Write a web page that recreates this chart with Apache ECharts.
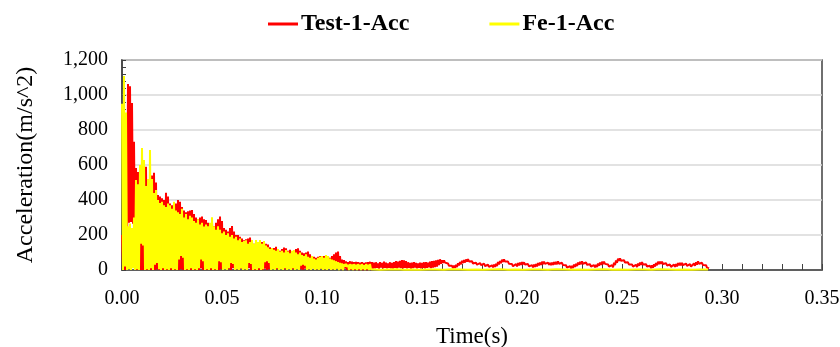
<!DOCTYPE html>
<html><head><meta charset="utf-8">
<script src="https://cdn.jsdelivr.net/npm/echarts@6/dist/echarts.min.js"></script>
<style>html,body{margin:0;padding:0;background:#fff}#c{width:840px;height:347px}</style>
</head><body><div id="c"></div>
<script>
// sample grid: peaks at t = i*STEP, troughs at t = (i+0.5)*STEP
const STEP = 0.001;
const seriesNames = ['Test-1-Acc', 'Fe-1-Acc'];

// Test-1-Acc (red) peak values, t = 0.000 ... 0.293
const redHigh = [
  200,500,800,1063,1050,954,733,583,560,520,
  540,580,590,520,480,540,556,500,428,420,
  410,400,442,420,380,370,360,380,400,390,
  360,340,330,335,340,343,320,300,290,300,
  305,290,286,270,260,280,250,270,290,305,
  280,240,230,220,240,251,220,200,200,190,
  180,170,175,180,185,160,150,160,150,165,
  160,140,150,145,130,120,125,133,120,110,
  120,128,124,110,115,100,110,120,124,110,
  100,95,100,105,90,80,75,70,75,80,
  75,80,86,80,70,80,90,100,105,80,
  60,57,50,45,50,48,45,47,45,42,
  45,40,44,45,47,45,
  42,44,38,45,40,47,42,38,44,40,
  45,50,48,52,57,55,50,44,40,42,
  45,40,38,42,40,44,45,42,47,50,
  52,55,58,61,55,
  55,46,37,28,24,25,30,39,45,53,
  56,60,62,57,50,47,42,41,40,39,
  36,34,30,29,27,31,36,45,52,59,
  61,57,48,41,34,32,34,39,42,45,
  44,41,34,31,28,31,34,39,42,47,
  48,45,42,41,42,45,46,49,46,41,
  32,27,22,22,24,31,36,43,46,49,
  46,43,38,33,28,28,30,37,42,47,
  48,43,32,25,28,41,54,65,66,63,
  56,51,44,39,32,29,30,37,42,45,
  40,33,26,24,26,33,40,47,48,47,
  42,39,34,31,28,31,34,39,40,41,
  38,37,34,33,31,37,44,49,46,41,
  32,27,22
];
// Test-1-Acc (red) trough values, t = 0.0005 ... 0.2935
const redLow = [
  0,0,10,270,275,265,100,0,5,0,
  0,8,0,5,0,10,0,5,0,8,
  0,5,0,10,0,5,0,8,0,5,
  0,8,0,5,0,10,0,5,0,8,
  0,5,0,10,0,5,0,8,0,5,
  0,8,0,5,0,10,0,5,0,8,
  0,5,0,10,0,5,0,8,0,5,
  0,8,0,5,0,10,0,5,0,8,
  0,5,0,10,0,5,0,8,0,5,
  0,8,0,5,0,10,0,5,0,8,
  0,5,0,10,0,5,0,8,0,5,
  0,8,0,5,0,10,0,5,0,8,
  0,5,0,10,0,8,
  10,12,8,14,10,12,9,13,10,8,
  12,10,14,11,9,12,10,13,8,11,
  14,10,12,9,13,10,12,15,11,14,
  16,20,28,36,40,
  42,33,24,16,11,12,17,26,33,40,
  43,48,49,44,37,34,30,27,28,26,
  23,21,18,15,15,18,23,32,39,46,
  48,44,35,28,21,19,21,26,29,32,
  31,28,21,18,15,18,21,26,29,34,
  35,32,29,28,29,32,33,36,33,28,
  19,14,9,9,11,18,23,30,33,36,
  33,30,25,20,15,15,17,24,29,34,
  35,30,19,12,15,28,41,52,53,50,
  43,38,31,26,19,16,17,24,29,32,
  27,20,13,11,13,20,27,34,35,34,
  29,26,21,18,15,18,21,26,27,28,
  25,24,21,20,18,24,31,36,33,28,
  19,14,9
];
// Fe-1-Acc (yellow) peak values, t = 0.000 ... 0.124
const yellowHigh = [
  950,1109,900,250,265,240,300,514,490,600,
  697,628,480,520,686,520,440,457,400,383,
  390,370,360,380,370,350,390,340,330,320,
  350,300,320,290,310,300,280,270,290,260,
  270,248,260,250,270,301,250,230,250,230,
  210,220,200,210,190,200,180,190,170,180,
  160,165,170,150,160,171,150,171,160,171,
  150,165,140,130,120,125,115,110,120,105,
  110,100,114,105,95,110,114,100,90,100,
  85,80,90,75,70,80,65,60,70,75,
  80,70,86,80,65,60,55,50,45,40,
  38,34,35,30,34,32,34,30,34,30,
  34,28,34,30,34
];
// Fe-1-Acc (yellow) trough values, t = 0.0005 ... 0.1245
const yellowLow = [
  0,20,0,5,0,10,0,5,0,150,
  140,0,5,0,10,0,30,40,5,0,
  10,0,5,0,10,0,5,0,60,80,
  70,0,5,0,10,0,5,0,10,60,
  50,0,5,0,10,0,5,0,50,45,
  0,5,0,10,40,35,0,5,0,10,
  0,5,0,40,35,0,5,0,10,0,
  5,45,50,40,0,5,0,10,0,5,
  0,10,0,5,0,10,0,5,0,25,
  30,25,0,5,0,8,0,5,0,8,
  0,5,0,8,0,5,0,8,0,5,
  0,20,18,0,5,0,6,0,5,0,
  6,0,5,0,4
];
// Fe-1-Acc (yellow) tail, t = 0.125 ... 0.293 every 0.004 s
const YTAIL_START = 0.125, YTAIL_STEP = 0.004;
const yellowTail = [
  3,2,3,4,2,3,2,3,3,2,
  4,3,2,3,2,3,4,2,3,2,
  3,3,2,4,3,2,3,2,3,4,
  2,3,2,3,3,2,4,3,2,3,
  2,3,3
];

function interleave(high, low, step) {
  const out = [];
  const n = Math.min(high.length, low.length);
  for (let i = 0; i < n; i++) {
    out.push([+(i * step).toFixed(5), high[i]]);
    out.push([+((i + 0.5) * step).toFixed(5), low[i]]);
  }
  return out;
}
const redData = interleave(redHigh, redLow, STEP);
const yellowData = interleave(yellowHigh, yellowLow, STEP);
yellowTail.forEach((v, i) => yellowData.push([+(YTAIL_START + i * YTAIL_STEP).toFixed(5), v]));

const FONT = "'Liberation Serif','Times New Roman',serif";
const AXIS_COLOR = '#404040';

const chart = echarts.init(document.getElementById('c'), null, {renderer: 'canvas'});
chart.setOption({
  animation: false,
  backgroundColor: '#fff',
  legend: {
    data: seriesNames,
    left: 263, top: 7,
    itemWidth: 30, itemHeight: 3, itemGap: 80,
    icon: 'rect',
    textStyle: {fontFamily: FONT, fontWeight: 'bold', fontSize: 24, color: '#000', padding: [0,0,0,-2]}
  },
  grid: {left: 122, right: 18, top: 60, bottom: 77, outerBoundsMode: 'none', containLabel: false,
         show: true, borderColor: AXIS_COLOR, borderWidth: 1.5, backgroundColor: 'transparent'},
  xAxis: {
    type: 'value', min: 0, max: 0.35, interval: 0.05,
    name: 'Time(s)', nameLocation: 'middle', nameGap: 55,
    nameTextStyle: {fontFamily: FONT, fontSize: 23, color: '#000'},
    axisLine: {show: true, lineStyle: {color: AXIS_COLOR, width: 1.5}},
    axisTick: {show: true, inside: true, length: 6, lineStyle: {color: AXIS_COLOR}},
    minorTick: {show: true, splitNumber: 5, length: 6, lineStyle: {color: AXIS_COLOR}},
    axisLabel: {fontFamily: FONT, fontSize: 20, color: '#000', margin: 19, formatter: v => v.toFixed(2)},
    splitLine: {show: false}
  },
  yAxis: {
    type: 'value', min: 0, max: 1200, interval: 200,
    name: 'Acceleration(m/s^2)', nameLocation: 'middle', nameGap: 84,
    nameTextStyle: {fontFamily: FONT, fontSize: 24, color: '#000'},
    axisLine: {show: true, lineStyle: {color: AXIS_COLOR, width: 1.5}},
    axisTick: {show: true, inside: true, length: 4, lineStyle: {color: AXIS_COLOR}},
    minorTick: {show: true, splitNumber: 5, length: 4, lineStyle: {color: AXIS_COLOR}},
    axisLabel: {fontFamily: FONT, fontSize: 20, color: '#000', margin: 14, formatter: v => v.toLocaleString('en-US')},
    splitLine: {show: true, lineStyle: {color: '#d9d9d9', width: 1.5}}
  },
  series: [
    {name: seriesNames[0], type: 'line', data: redData, showSymbol: false, symbol: 'none',
     lineStyle: {color: '#ff0000', width: 2}, itemStyle: {color: '#ff0000'}, progressive: 0, z: 2},
    {name: seriesNames[1], type: 'line', data: yellowData, showSymbol: false, symbol: 'none',
     lineStyle: {color: '#ffff00', width: 2}, itemStyle: {color: '#ffff00'}, progressive: 0, z: 3}
  ]
});
</script></body></html>
